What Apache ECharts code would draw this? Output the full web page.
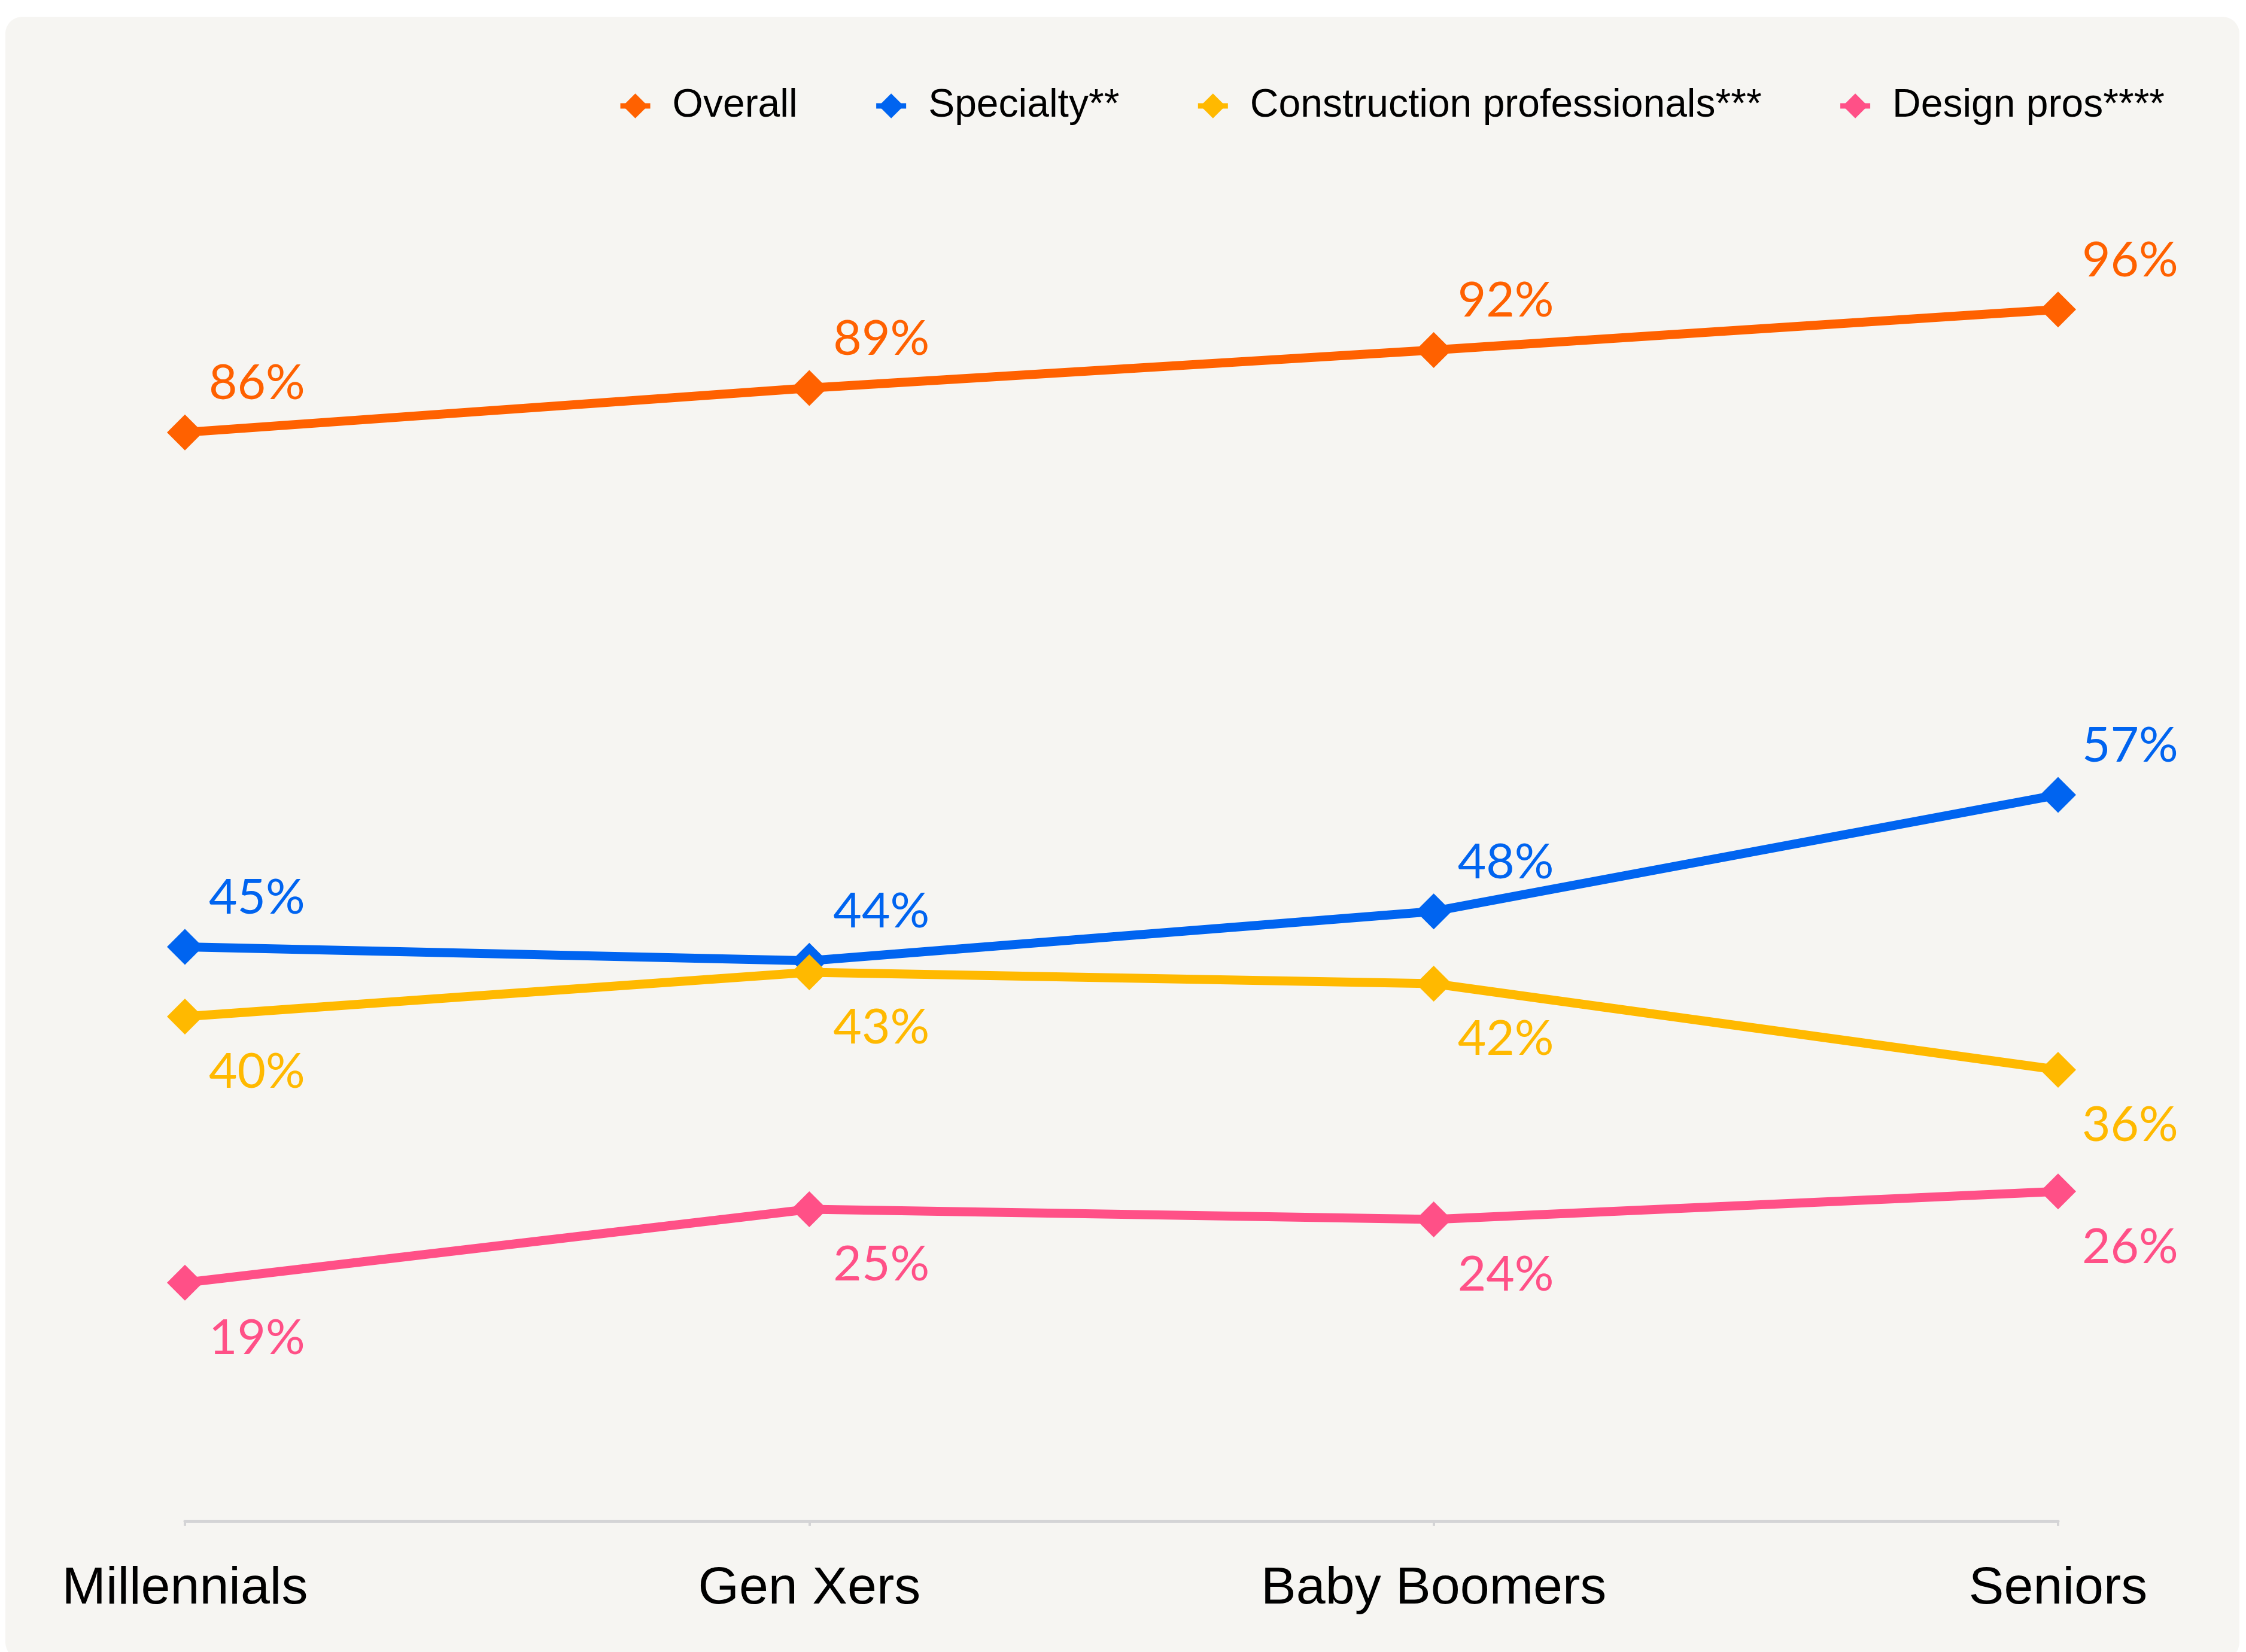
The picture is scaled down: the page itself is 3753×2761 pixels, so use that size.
<!DOCTYPE html>
<html>
<head>
<meta charset="utf-8">
<title>Generations chart</title>
<script src="https://cdn.jsdelivr.net/npm/echarts@6/dist/echarts.min.js"></script>
<style>
    html, body { margin: 0; padding: 0; background: #ffffff; }
    #chart { width: 3753px; height: 2761px; }
</style>
</head>
<body>
<div id="chart"></div>
<script>
// categories on the x axis
const generations = ['Millennials', 'Gen Xers', 'Baby Boomers', 'Seniors'];

// series names (legend)
const seriesNames = ['Overall', 'Specialty**', 'Construction professionals***', 'Design pros****'];

// values, in percent (labels show them rounded)
const overallValues = [85.9, 89.4, 92.4, 95.6];
const specialtyValues = [45.3, 44.2, 48.1, 57.3];
const constructionValues = [39.8, 43.3, 42.4, 35.6];
const designValues = [18.8, 24.6, 23.8, 26.0];

const seriesColors = ['#FF6100', '#0064F0', '#FFB900', '#FF5087'];

const chart = echarts.init(document.getElementById('chart'));

function makeSeries(name, values, color, labelAbove) {
    return {
        name: name,
        type: 'line',
        data: values,
        symbol: 'diamond',
        symbolSize: 60,
        color: color,
        lineStyle: { width: 15, color: color },
        itemStyle: { color: color },
        label: {
            show: true,
            position: 'inside',
            align: 'left',
            verticalAlign: 'middle',
            offset: [40, labelAbove ? -82 : 93],
            fontFamily: 'Lato',
            fontSize: 82,
            color: color,
            formatter: function (p) { return Math.round(p.value) + '%'; }
        },
        emphasis: { disabled: true },
        animation: false
    };
}

const option = {
    backgroundColor: '#ffffff',
    graphic: [{
        type: 'rect',
        z: -10,
        shape: { x: 9, y: 28, width: 3733, height: 2745, r: 28 },
        style: { fill: '#f6f5f2' }
    }],
    legend: {
        right: 131,
        top: 139,
        itemWidth: 50,
        itemHeight: 52,
        itemGap: 127,
        lineStyle: { width: 9 },
        textStyle: {
            fontFamily: 'Liberation Sans',
            fontSize: 66,
            color: '#000000',
            padding: [0, 0, 0, 32]
        },
        data: seriesNames
    },
    grid: { left: 309, right: 314, top: 424, bottom: 219 },
    xAxis: {
        type: 'category',
        data: generations,
        boundaryGap: false,
        axisLine: { lineStyle: { color: '#d4d4d6', width: 5 } },
        axisTick: { show: true, length: 8, lineStyle: { color: '#d4d4d6', width: 4 } },
        axisLabel: {
            margin: 70,
            fontFamily: 'Liberation Sans',
            fontSize: 88,
            color: '#000000'
        }
    },
    yAxis: {
        type: 'value',
        min: 0,
        max: 100,
        show: false,
        splitLine: { show: false }
    },
    series: [
        makeSeries(seriesNames[0], overallValues, seriesColors[0], true),
        makeSeries(seriesNames[1], specialtyValues, seriesColors[1], true),
        makeSeries(seriesNames[2], constructionValues, seriesColors[2], false),
        makeSeries(seriesNames[3], designValues, seriesColors[3], false)
    ]
};

chart.setOption(option);
</script>
</body>
</html>
